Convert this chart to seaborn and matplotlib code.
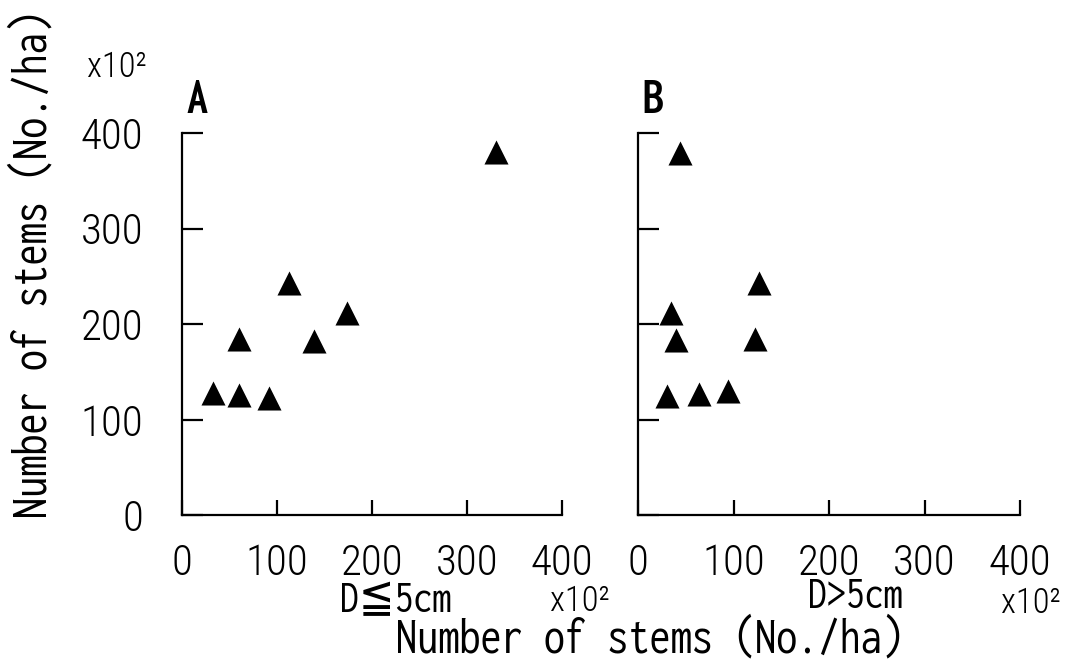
import matplotlib
matplotlib.use("Agg")
import matplotlib.pyplot as plt
import seaborn as sns
import pandas as pd

# Stem density (x10^2 No./ha): small stems (D<=5cm) and large stems (D>5cm)
# plotted against total stem density
small_x = [33, 60, 92, 60, 113, 139, 174, 330]
small_y = [128, 126, 123, 184, 243, 182, 212, 380]
large_x = [44, 127, 35, 40, 122, 30, 64, 94]
large_y = [379, 243, 212, 183, 184, 125, 127, 130]

ticks = [0, 100, 200, 300, 400]
tick_labels = ["0", "100", "200", "300", "400"]
panel_letters = ["A", "B"]
class_labels = ["D≦5cm", "D>5cm"]
axis_title = "Number of stems (No./ha)"
scale_note = "x10²"

sns.set_theme(style="ticks")
FONT = ["Inconsolata", "DejaVu Sans"]
NUM_FONT = ["Roboto Condensed", "PT Sans Narrow", "Inconsolata", "DejaVu Sans"]
plt.rcParams["font.family"] = FONT
plt.rcParams["font.stretch"] = "condensed"
for key in ["text.color", "axes.labelcolor", "xtick.color", "ytick.color",
            "axes.edgecolor"]:
    plt.rcParams[key] = "black"

df = pd.concat([
    pd.DataFrame({"x": small_x, "y": small_y, "panel": "A"}),
    pd.DataFrame({"x": large_x, "y": large_y, "panel": "B"}),
], ignore_index=True)

fig = plt.figure(figsize=(10.8, 6.6), dpi=100)
ax_a = fig.add_axes([182 / 1080, 1 - 515 / 660, 380 / 1080, 382 / 660])
ax_b = fig.add_axes([638 / 1080, 1 - 515 / 660, 382 / 1080, 382 / 660])

TICK_SIZE = 31
for ax, letter in zip([ax_a, ax_b], panel_letters):
    sub = df[df["panel"] == letter]
    sns.scatterplot(data=sub, x="x", y="y", ax=ax, marker="^", s=300,
                    color="black", edgecolor="black", linewidth=0, legend=False)
    ax.set_xlim(0, 400)
    ax.set_ylim(0, 400)
    ax.set_xticks(ticks)
    ax.set_yticks(ticks)
    ax.set_xlabel("")
    ax.set_ylabel("")
    for side in ["top", "right"]:
        ax.spines[side].set_visible(False)
    for side in ["left", "bottom"]:
        ax.spines[side].set_linewidth(1.6)
    ax.tick_params(axis="y", direction="in", length=15, width=1.6, pad=28)
    ax.tick_params(axis="x", direction="in", length=11, width=1.6, pad=20)
    ax.set_xticklabels(tick_labels, family=NUM_FONT, fontsize=TICK_SIZE,
                       fontweight="light")
    ax.text(0.012, 1.03, letter, transform=ax.transAxes, ha="left", va="bottom",
            fontsize=38, fontweight="bold")
    ax.set_facecolor("white")

ax_a.set_yticklabels(tick_labels, family=NUM_FONT, fontsize=TICK_SIZE,
                     fontweight="light")
ax_b.set_yticklabels([])

# class and scale annotations under each panel
fig.text(396 / 1080, 1 - 601 / 660, class_labels[0], ha="center", va="center",
         fontsize=34)
fig.text(855 / 1080, 1 - 597 / 660, class_labels[1], ha="center", va="center",
         fontsize=34)
for cx, cy in [(580, 601), (1031, 603), (117, 67)]:
    fig.text(cx / 1080, 1 - cy / 660, scale_note, ha="center", va="center",
             fontsize=25, family=NUM_FONT, fontweight="light")

# shared axis titles
fig.text(650 / 1080, 1 - 639 / 660, axis_title, ha="center", va="center",
         fontsize=38)
fig.text(33 / 1080, 1 - 264 / 660, axis_title, ha="center", va="center",
         rotation=90, fontsize=38)

fig.savefig("out.png", dpi=100, facecolor="white")
